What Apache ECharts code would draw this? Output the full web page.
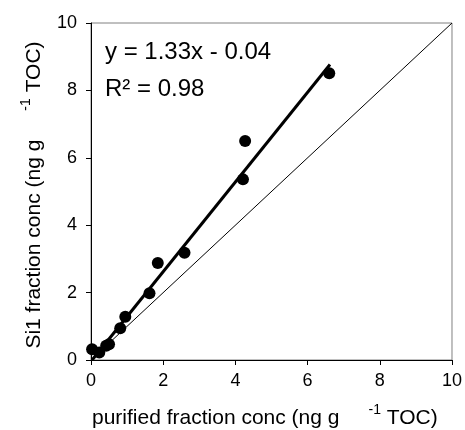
<!DOCTYPE html>
<html>
<head>
<meta charset="utf-8">
<script src="https://cdn.jsdelivr.net/npm/echarts@6/dist/echarts.min.js"></script>
<style>html,body{margin:0;padding:0;background:#fff;}#c{width:465px;height:430px;}</style>
</head>
<body>
<div id="c"></div>
<script>
var xTicks = [0, 2, 4, 6, 8, 10];
var yTicks = [0, 2, 4, 6, 8, 10];
var purifiedX = [0.03, 0.23, 0.42, 0.50, 0.81, 0.95, 1.62, 1.85, 2.59, 4.21, 4.27, 6.60];
var si1Y = [0.32, 0.22, 0.42, 0.47, 0.94, 1.28, 1.98, 2.88, 3.18, 5.36, 6.50, 8.51];
var fitX = [0.03, 6.62];
var fitY = [0.00, 8.77];
var oneToOneX = [0, 10];
var oneToOneY = [0, 10];
var eqText = 'y = 1.33x - 0.04';
var r2Text = 'R\u00b2 = 0.98';

var FONT = '"Liberation Sans", Arial, sans-serif';
function pairs(a, b) { return a.map(function (v, i) { return [v, b[i]]; }); }

var chart = echarts.init(document.getElementById('c'), null, {renderer: 'canvas'});
chart.setOption({
  animation: false,
  backgroundColor: '#fff',
  grid: {left: 91, right: 13, top: 23, bottom: 70, show: true, borderColor: '#808080', borderWidth: 1, containLabel: false},
  xAxis: {
    type: 'value', min: 0, max: 10, interval: 2,
    axisLine: {show: true, onZero: false, lineStyle: {color: '#000', width: 1}},
    axisTick: {show: true, inside: false, length: 5, lineStyle: {color: '#000'}},
    axisLabel: {margin: 12, fontSize: 18, color: '#000', fontFamily: FONT,
      formatter: function (v) { return xTicks.indexOf(v) >= 0 ? String(v) : ''; }},
    splitLine: {show: false}
  },
  yAxis: {
    type: 'value', min: 0, max: 10, interval: 2,
    axisLine: {show: true, onZero: false, lineStyle: {color: '#000', width: 1}},
    axisTick: {show: true, inside: false, length: 5, lineStyle: {color: '#000'}},
    axisLabel: {margin: 14, fontSize: 18, color: '#000', fontFamily: FONT,
      formatter: function (v) { return yTicks.indexOf(v) >= 0 ? String(v) : ''; }},
    splitLine: {show: false}
  },
  graphic: [
    {type: 'text', left: 105, top: 40, style: {text: eqText, fontSize: 24, fontFamily: FONT, fill: '#000'}},
    {type: 'text', left: 105, top: 77, style: {text: r2Text, fontSize: 24, fontFamily: FONT, fill: '#000'}},
    {type: 'text', x: 92, y: 414, style: {
      text: '{a|purified fraction conc (ng g}{g|}{s|-1}{a| TOC)}',
      verticalAlign: 'middle', align: 'left',
      rich: {
        a: {fontSize: 21, fontFamily: FONT, fill: '#000', lineHeight: 30, verticalAlign: 'bottom'},
        g: {width: 29, lineHeight: 30},
        s: {fontSize: 14, fontFamily: FONT, fill: '#000', lineHeight: 30, verticalAlign: 'top', padding: [4, 0, 0, 0]}
      }
    }},
    {type: 'text', x: 30, y: 195, rotation: Math.PI / 2, style: {
      text: '{a|Si1 fraction conc (ng g}{g|}{s|-1}{a| TOC)}',
      verticalAlign: 'middle', align: 'center',
      rich: {
        a: {fontSize: 21, fontFamily: FONT, fill: '#000', lineHeight: 30, verticalAlign: 'bottom'},
        g: {width: 29, lineHeight: 30},
        s: {fontSize: 14, fontFamily: FONT, fill: '#000', lineHeight: 30, verticalAlign: 'top', padding: [4, 0, 0, 0]}
      }
    }}
  ],
  series: [
    {type: 'line', data: pairs(oneToOneX, oneToOneY), symbol: 'none', lineStyle: {color: '#000', width: 1}, z: 2},
    {type: 'line', data: pairs(fitX, fitY), symbol: 'none', lineStyle: {color: '#000', width: 3}, z: 3},
    {type: 'scatter', data: pairs(purifiedX, si1Y), symbol: 'circle', symbolSize: 12, itemStyle: {color: '#000', opacity: 1}, z: 4}
  ]
});
</script>
</body>
</html>
